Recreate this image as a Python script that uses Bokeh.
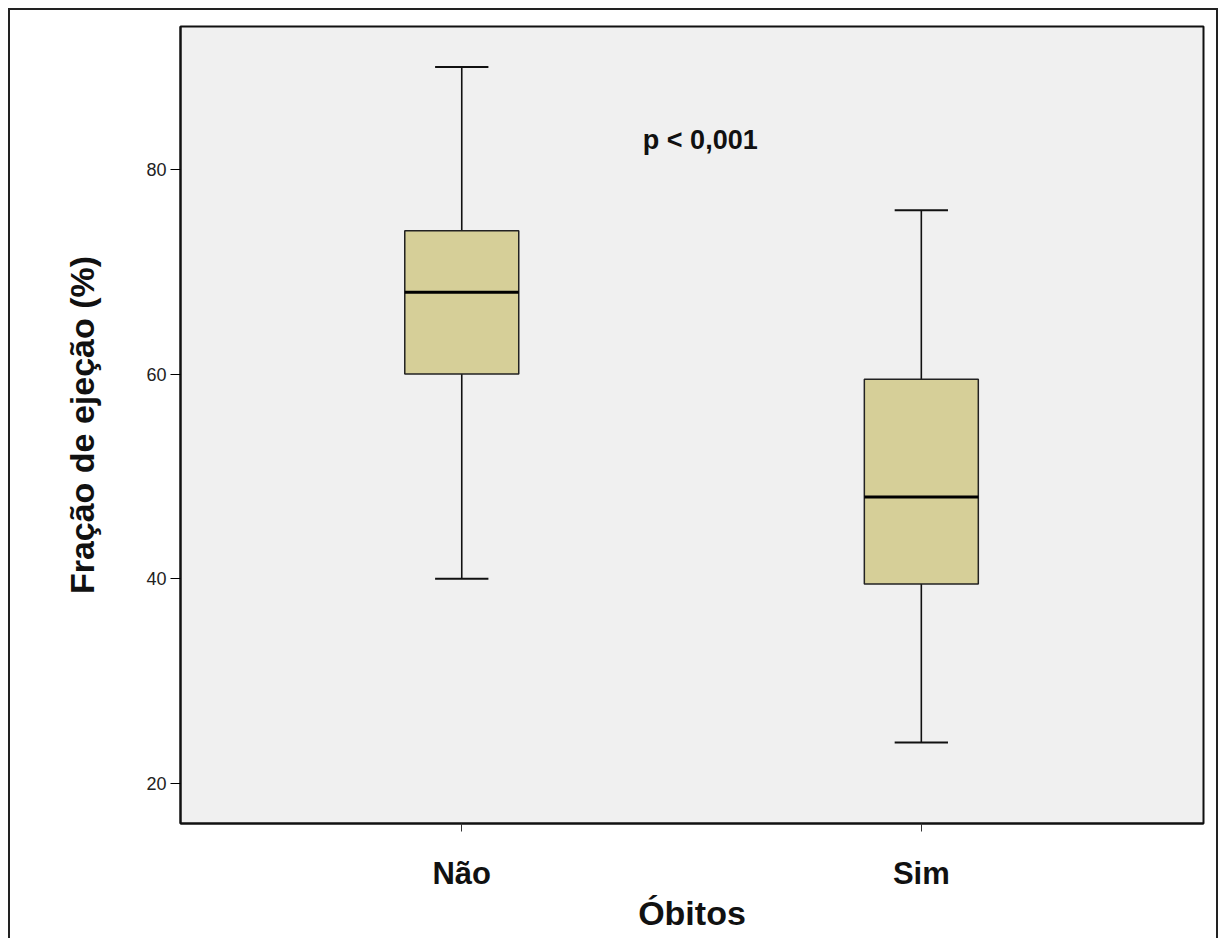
from bokeh.plotting import figure
from bokeh.models import FixedTicker, Range1d, Label
from bokeh.embed import file_html
from bokeh.resources import INLINE

categories = ["Não", "Sim"]
lower_whisker = [40, 24]
q1 = [60, 39.5]
median = [68, 48]
q3 = [74, 59.5]
upper_whisker = [90, 76]
y_ticks = [20, 40, 60, 80]

xs = list(range(1, len(categories) + 1))
box_w = 0.248
cap_w = 0.116

FONT = "Liberation Sans"

p = figure(width=1210, height=930, output_backend="svg", toolbar_location=None,
           x_range=Range1d(0.388, 2.614), y_range=Range1d(16.1, 93.95),
           min_border_left=170, min_border_top=16, min_border_right=17, min_border_bottom=117)

p.background_fill_color = "#f0f0f0"
p.border_fill_color = "white"
p.outline_line_color = "#111111"
p.outline_line_width = 2
p.xgrid.visible = False
p.ygrid.visible = False

# whiskers
p.segment(x0=xs, y0=q3, x1=xs, y1=upper_whisker, line_color="#111111", line_width=1.6)
p.segment(x0=xs, y0=q1, x1=xs, y1=lower_whisker, line_color="#111111", line_width=1.6)
# caps
p.segment(x0=[x - cap_w / 2 for x in xs], y0=upper_whisker, x1=[x + cap_w / 2 for x in xs],
          y1=upper_whisker, line_color="#111111", line_width=2)
p.segment(x0=[x - cap_w / 2 for x in xs], y0=lower_whisker, x1=[x + cap_w / 2 for x in xs],
          y1=lower_whisker, line_color="#111111", line_width=2)
# boxes
p.vbar(x=xs, width=box_w, bottom=q1, top=q3, fill_color="#d6cf98",
       line_color="#222222", line_width=1.5)
# medians
p.segment(x0=[x - box_w / 2 for x in xs], y0=median, x1=[x + box_w / 2 for x in xs],
          y1=median, line_color="#000000", line_width=3)

p.add_layout(Label(x=1.519, y=82.9, text="p < 0,001", text_font=FONT, text_font_style="bold",
                   text_font_size="27px", text_align="center", text_baseline="middle",
                   text_color="#111111"))

# axes
p.xaxis.ticker = FixedTicker(ticks=xs)
p.xaxis.major_label_overrides = {x: c for x, c in zip(xs, categories)}
p.xaxis.axis_label = "Óbitos"
p.xaxis.axis_label_text_font = FONT
p.xaxis.axis_label_text_font_style = "bold"
p.xaxis.axis_label_text_font_size = "34px"
p.xaxis.axis_label_text_color = "#111111"
p.xaxis.axis_label_standoff = 0
p.xaxis.major_label_text_font = FONT
p.xaxis.major_label_text_font_style = "bold"
p.xaxis.major_label_text_font_size = "31px"
p.xaxis.major_label_text_color = "#111111"
p.xaxis.major_label_standoff = 24
p.xaxis.major_tick_out = 8
p.xaxis.major_tick_in = 0
p.xaxis.minor_tick_line_color = None
p.xaxis.axis_line_width = 2
p.xaxis.axis_line_color = "#111111"
p.xaxis.major_tick_line_color = "#333333"

p.yaxis.ticker = FixedTicker(ticks=y_ticks)
p.yaxis.axis_label = "Fração de ejeção (%)"
p.yaxis.axis_label_text_font = FONT
p.yaxis.axis_label_text_font_style = "bold"
p.yaxis.axis_label_text_font_size = "34px"
p.yaxis.axis_label_text_color = "#111111"
p.yaxis.axis_label_standoff = 42
p.yaxis.major_label_text_font = FONT
p.yaxis.major_label_text_font_size = "18px"
p.yaxis.major_label_text_color = "#222222"
p.yaxis.major_label_standoff = 4
p.yaxis.major_tick_out = 10
p.yaxis.major_tick_in = 0
p.yaxis.minor_tick_line_color = None
p.yaxis.axis_line_width = 2
p.yaxis.axis_line_color = "#111111"

p.styles = {"border-left": "2px solid #222", "border-top": "2px solid #222",
            "border-right": "2px solid #222", "box-sizing": "border-box",
            "margin": "8px 0 0 8px"}

open("out.html", "w").write(file_html(p, INLINE))
